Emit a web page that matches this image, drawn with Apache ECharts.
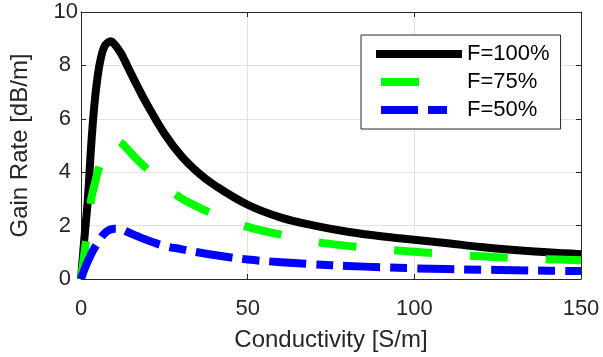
<!DOCTYPE html>
<html>
<head>
<meta charset="utf-8">
<script src="https://cdn.jsdelivr.net/npm/echarts@6/dist/echarts.min.js"></script>
<style>html,body{margin:0;padding:0;background:#fff;}#c{width:603px;height:357px;}</style>
</head>
<body>
<div id="c"></div>
<script>
// Conductivity [S/m]
var sigma = [0, 1, 2, 3, 4, 5, 6, 7, 8, 9, 10, 12, 14, 17, 20, 25, 30, 35, 40, 50, 60, 70, 80, 90, 100, 110, 120, 130, 140, 150];
// Gain rate [dB/m]
var gain100 = [0, 1.5, 2.9, 4.9, 6.5, 7.6, 8.3, 8.7, 8.85, 8.9, 8.8, 8.45, 7.95, 7.2, 6.5, 5.45, 4.62, 4.0, 3.52, 2.78, 2.3, 2.0, 1.77, 1.6, 1.47, 1.34, 1.2, 1.09, 1.0, 0.93];
var gain75  = [0, 0.95, 1.9, 2.95, 3.5, 4.0, 4.4, 4.75, 5.0, 5.15, 5.2, 5.1, 4.85, 4.45, 4.1, 3.5, 3.03, 2.7, 2.42, 1.95, 1.66, 1.4, 1.24, 1.12, 1.02, 0.93, 0.85, 0.79, 0.74, 0.70];
var gain50  = [0, 0.35, 0.65, 0.92, 1.15, 1.35, 1.55, 1.7, 1.8, 1.86, 1.88, 1.86, 1.76, 1.6, 1.45, 1.24, 1.12, 1.0, 0.9, 0.73, 0.63, 0.55, 0.49, 0.44, 0.4, 0.37, 0.35, 0.33, 0.31, 0.30];
var seriesNames = ['F=100%', 'F=75%', 'F=50%'];
var xTicks = {min: 0, max: 150, interval: 50};
var yTicks = {min: 0, max: 10, interval: 2};

function pairs(xs, ys) { return xs.map(function (x, i) { return [x, ys[i]]; }); }

var FONT = '"Liberation Sans", Arial, Helvetica, sans-serif';
var AX = '#262626';
var GRIDC = '#e2e2e2';

var chart = echarts.init(document.getElementById('c'), null, {renderer: 'canvas'});

function baseAxis(extra) {
  var a = {
    type: 'value',
    axisLine: {show: true, onZero: false, lineStyle: {color: AX, width: 1}},
    axisTick: {show: true, inside: true, length: 5, lineStyle: {color: AX, width: 1}},
    splitLine: {show: false},
    axisLabel: {show: false}
  };
  for (var k in extra) a[k] = extra[k];
  return a;
}

var option = {
  animation: false,
  backgroundColor: '#fff',
  grid: {left: 80, right: 22, top: 12, bottom: 74},
  legend: {
    orient: 'vertical',
    left: 361, top: 35,
    padding: [8, 11, 8, 11],
    itemGap: 6,
    itemWidth: 86,
    itemHeight: 14,
    borderColor: AX, borderWidth: 1,
    backgroundColor: '#fff',
    textStyle: {fontSize: 22, color: '#000', fontFamily: FONT},
    lineStyle: {width: 8},
    itemStyle: {opacity: 0},
    data: [
      {name: seriesNames[0]},
      {name: seriesNames[1], lineStyle: {width: 8, type: [38, 100], dashOffset: -5}},
      {name: seriesNames[2], lineStyle: {width: 8, type: [37, 10, 19, 100], dashOffset: -5}}
    ]
  },
  xAxis: [
    baseAxis({
      position: 'bottom', min: xTicks.min, max: xTicks.max, interval: xTicks.interval,
      name: 'Conductivity [S/m]', nameLocation: 'middle', nameGap: 49,
      nameTextStyle: {fontSize: 24, color: AX, fontFamily: FONT},
      axisLabel: {show: true, fontSize: 22, color: AX, fontFamily: FONT, margin: 19},
      splitLine: {show: true, lineStyle: {color: GRIDC, width: 1}}
    }),
    baseAxis({position: 'top', min: xTicks.min, max: xTicks.max, interval: xTicks.interval})
  ],
  yAxis: [
    baseAxis({
      position: 'left', min: yTicks.min, max: yTicks.max, interval: yTicks.interval,
      name: 'Gain Rate [dB/m]', nameLocation: 'middle', nameGap: 49,
      nameTextStyle: {fontSize: 24, color: AX, fontFamily: FONT},
      axisLabel: {
        show: true, margin: 3,
        formatter: function (v) { return v === 10 ? '{t|10}' : '{n|' + v + '}'; },
        rich: {
          t: {fontSize: 22, color: AX, fontFamily: FONT},
          n: {fontSize: 22, color: AX, fontFamily: FONT, padding: [0, 7, 0, 0]}
        }
      },
      splitLine: {show: true, lineStyle: {color: GRIDC, width: 1}}
    }),
    baseAxis({position: 'right', min: yTicks.min, max: yTicks.max, interval: yTicks.interval})
  ],
  series: [
    {
      name: seriesNames[0], type: 'line', xAxisIndex: 0, yAxisIndex: 0,
      data: pairs(sigma, gain100), symbol: 'none', showSymbol: false, smooth: 0.4,
      lineStyle: {color: '#000000', width: 8, type: 'solid', cap: 'butt', join: 'round'},
      itemStyle: {color: '#000000'}
    },
    {
      name: seriesNames[1], type: 'line', xAxisIndex: 0, yAxisIndex: 0,
      data: pairs(sigma, gain75), symbol: 'none', showSymbol: false, smooth: 0.4,
      lineStyle: {color: '#00ff00', width: 8, type: [38, 38], cap: 'butt', join: 'round'},
      itemStyle: {color: '#00ff00'}
    },
    {
      name: seriesNames[2], type: 'line', xAxisIndex: 0, yAxisIndex: 0,
      data: pairs(sigma, gain50), symbol: 'none', showSymbol: false, smooth: 0.4,
      lineStyle: {color: '#0000ff', width: 8, type: [37, 10, 17, 10], cap: 'butt', join: 'round'},
      itemStyle: {color: '#0000ff'}
    }
  ]
};
chart.setOption(option);
</script>
</body>
</html>
